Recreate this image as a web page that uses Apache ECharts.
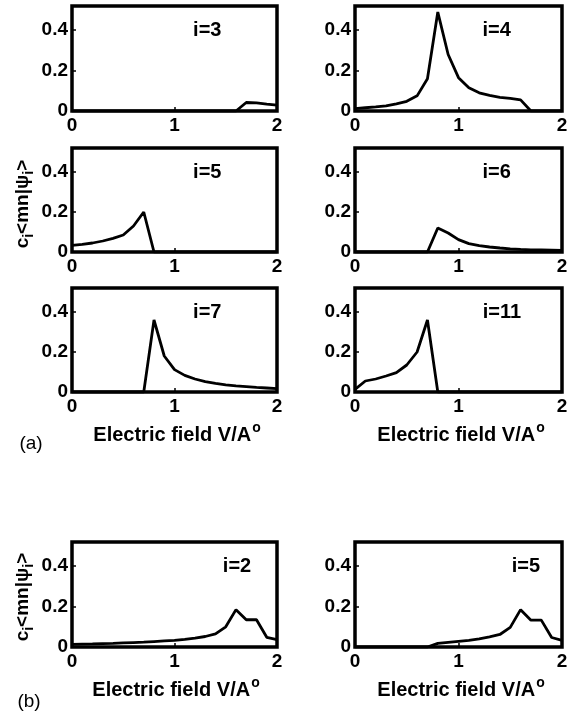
<!DOCTYPE html>
<html>
<head>
<meta charset="utf-8">
<script src="https://cdn.jsdelivr.net/npm/echarts@6/dist/echarts.min.js"></script>
<style>
html,body{margin:0;padding:0;background:#fff;}
#c{width:574px;height:712px;}
</style>
</head>
<body>
<div id="c"></div>
<script>
// Electric field values (V/A°)
const XS = [0,0.1,0.2,0.3,0.4,0.5,0.6,0.7,0.8,0.9,1.0,1.1,1.2,1.3,1.4,1.5,1.6,1.7,1.8,1.9,2.0];
const X_TICKS = [0,1,2];
const Y_TICKS = [0,0.2,0.4];

// panel (a)
const A_I3  = [0,0,0,0,0,0,0,0,0,0,0,0,0,0,0,0,0,0.042,0.04,0.034,0.029];
const A_I4  = [0.012,0.016,0.02,0.025,0.035,0.048,0.075,0.16,0.49,0.28,0.165,0.115,0.09,0.077,0.068,0.062,0.055,0,0,0,0];
const A_I5  = [0.033,0.038,0.045,0.055,0.068,0.085,0.13,0.2,0,0,0,0,0,0,0,0,0,0,0,0,0];
const A_I6  = [0,0,0,0,0,0,0,0,0.12,0.095,0.062,0.042,0.032,0.025,0.02,0.016,0.013,0.011,0.01,0.009,0.008];
const A_I7  = [0,0,0,0,0,0,0,0,0.36,0.18,0.112,0.083,0.065,0.052,0.043,0.036,0.031,0.027,0.023,0.02,0.017];
const A_I11 = [0.013,0.055,0.065,0.08,0.097,0.135,0.2,0.36,0,0,0,0,0,0,0,0,0,0,0,0,0];
// panel (b)
const B_I2  = [0.013,0.014,0.015,0.017,0.018,0.02,0.022,0.024,0.027,0.03,0.033,0.038,0.044,0.052,0.065,0.1,0.185,0.135,0.135,0.048,0.037];
const B_I5  = [0,0,0,0,0,0,0,0,0.018,0.023,0.028,0.033,0.04,0.05,0.062,0.097,0.185,0.133,0.133,0.047,0.033];

const LABELS = ['i=3','i=4','i=5','i=6','i=7','i=11','i=2','i=5'];
const SERIES = [A_I3,A_I4,A_I5,A_I6,A_I7,A_I11,B_I2,B_I5];

// layout
const COL = [{left:72,width:205},{left:355,width:207}];
const ROW = [{top:6,height:105},{top:148,height:104},{top:288,height:104},{top:542,height:105}];
const PANELS = [
  {c:0,r:0,lx:0.66},{c:1,r:0,lx:0.684},
  {c:0,r:1,lx:0.66},{c:1,r:1,lx:0.684},
  {c:0,r:2,lx:0.66},{c:1,r:2,lx:0.71},
  {c:0,r:3,lx:0.805},{c:1,r:3,lx:0.826}
];
const YMAX = 0.52;
const FONT = '"Liberation Sans", Arial, Helvetica, sans-serif';

const grids=[],xAxes=[],yAxes=[],series=[],graphics=[];
PANELS.forEach((p,k)=>{
  const g={left:COL[p.c].left,top:ROW[p.r].top,width:COL[p.c].width,height:ROW[p.r].height};
  grids.push(Object.assign({show:true,borderColor:'#000',borderWidth:3.5,backgroundColor:'#fff'},g));
  xAxes.push({type:'value',gridIndex:k,min:X_TICKS[0],max:X_TICKS[X_TICKS.length-1],interval:1,
    axisLine:{show:false},splitLine:{show:false},
    axisTick:{show:true,inside:true,length:4,lineStyle:{color:'#000',width:1.5}},
    axisLabel:{color:'#000',fontSize:19,fontWeight:'bold',fontFamily:FONT,margin:5}});
  yAxes.push({type:'value',gridIndex:k,min:0,max:YMAX,interval:0.2,
    axisLine:{show:false},splitLine:{show:false},
    axisTick:{show:true,inside:true,length:4,lineStyle:{color:'#000',width:1.5}},
    axisLabel:{color:'#000',fontSize:19,fontWeight:'bold',fontFamily:FONT,margin:4,showMaxLabel:false,
      formatter:v=>Y_TICKS.some(t=>Math.abs(t-v)<1e-9)?String(v):''}});
  series.push({type:'line',xAxisIndex:k,yAxisIndex:k,showSymbol:false,symbol:'none',
    lineStyle:{color:'#000',width:2.8},z:3,
    data:XS.map((x,i)=>[x,SERIES[k][i]])});
  graphics.push({type:'text',x:g.left+p.lx*g.width,y:g.top+(YMAX-0.4)*g.height/YMAX,z:10,
    style:{text:LABELS[k],fill:'#000',font:'bold 20px '+FONT,textAlign:'center',textVerticalAlign:'middle'}});
});

const xRich={n:{fontSize:20,fontWeight:'bold',fontFamily:FONT,color:'#000'},p:{fontSize:14,fontWeight:'bold',fontFamily:FONT,color:'#000',padding:[0,0,13,1]}};
function xlabel(cx,cy){
  graphics.push({type:'text',x:cx,y:cy,z:10,style:{text:'{n|Electric field V/A}{p|o}',rich:xRich,textAlign:'center',textVerticalAlign:'middle',fill:'#000'}});
}
xlabel(177,435);
xlabel(461,435);
xlabel(176,690);
xlabel(461,690);

const yRich={n:{fontSize:19,fontWeight:'bold',fontFamily:FONT,color:'#000'},s:{fontSize:14,fontWeight:'bold',fontFamily:FONT,color:'#000',padding:[13,0,0,0]}};
function ylabel(cx,cy){
  graphics.push({type:'text',x:cx,y:cy,rotation:Math.PI/2,z:10,style:{text:'{n|c}{s|i}{n|<mn|ψ}{s|i}{n|>}',rich:yRich,textAlign:'center',textVerticalAlign:'middle',fill:'#000'}});
}
ylabel(23,204);
ylabel(23,597);

graphics.push({type:'text',x:31,y:444,z:10,style:{text:'(a)',fill:'#000',font:'19px '+FONT,textAlign:'center',textVerticalAlign:'middle'}});
graphics.push({type:'text',x:29,y:702,z:10,style:{text:'(b)',fill:'#000',font:'19px '+FONT,textAlign:'center',textVerticalAlign:'middle'}});

const chart=echarts.init(document.getElementById('c'),null,{renderer:'canvas'});
chart.setOption({animation:false,backgroundColor:'#fff',grid:grids,xAxis:xAxes,yAxis:yAxes,series:series,graphic:graphics});
</script>
</body>
</html>
